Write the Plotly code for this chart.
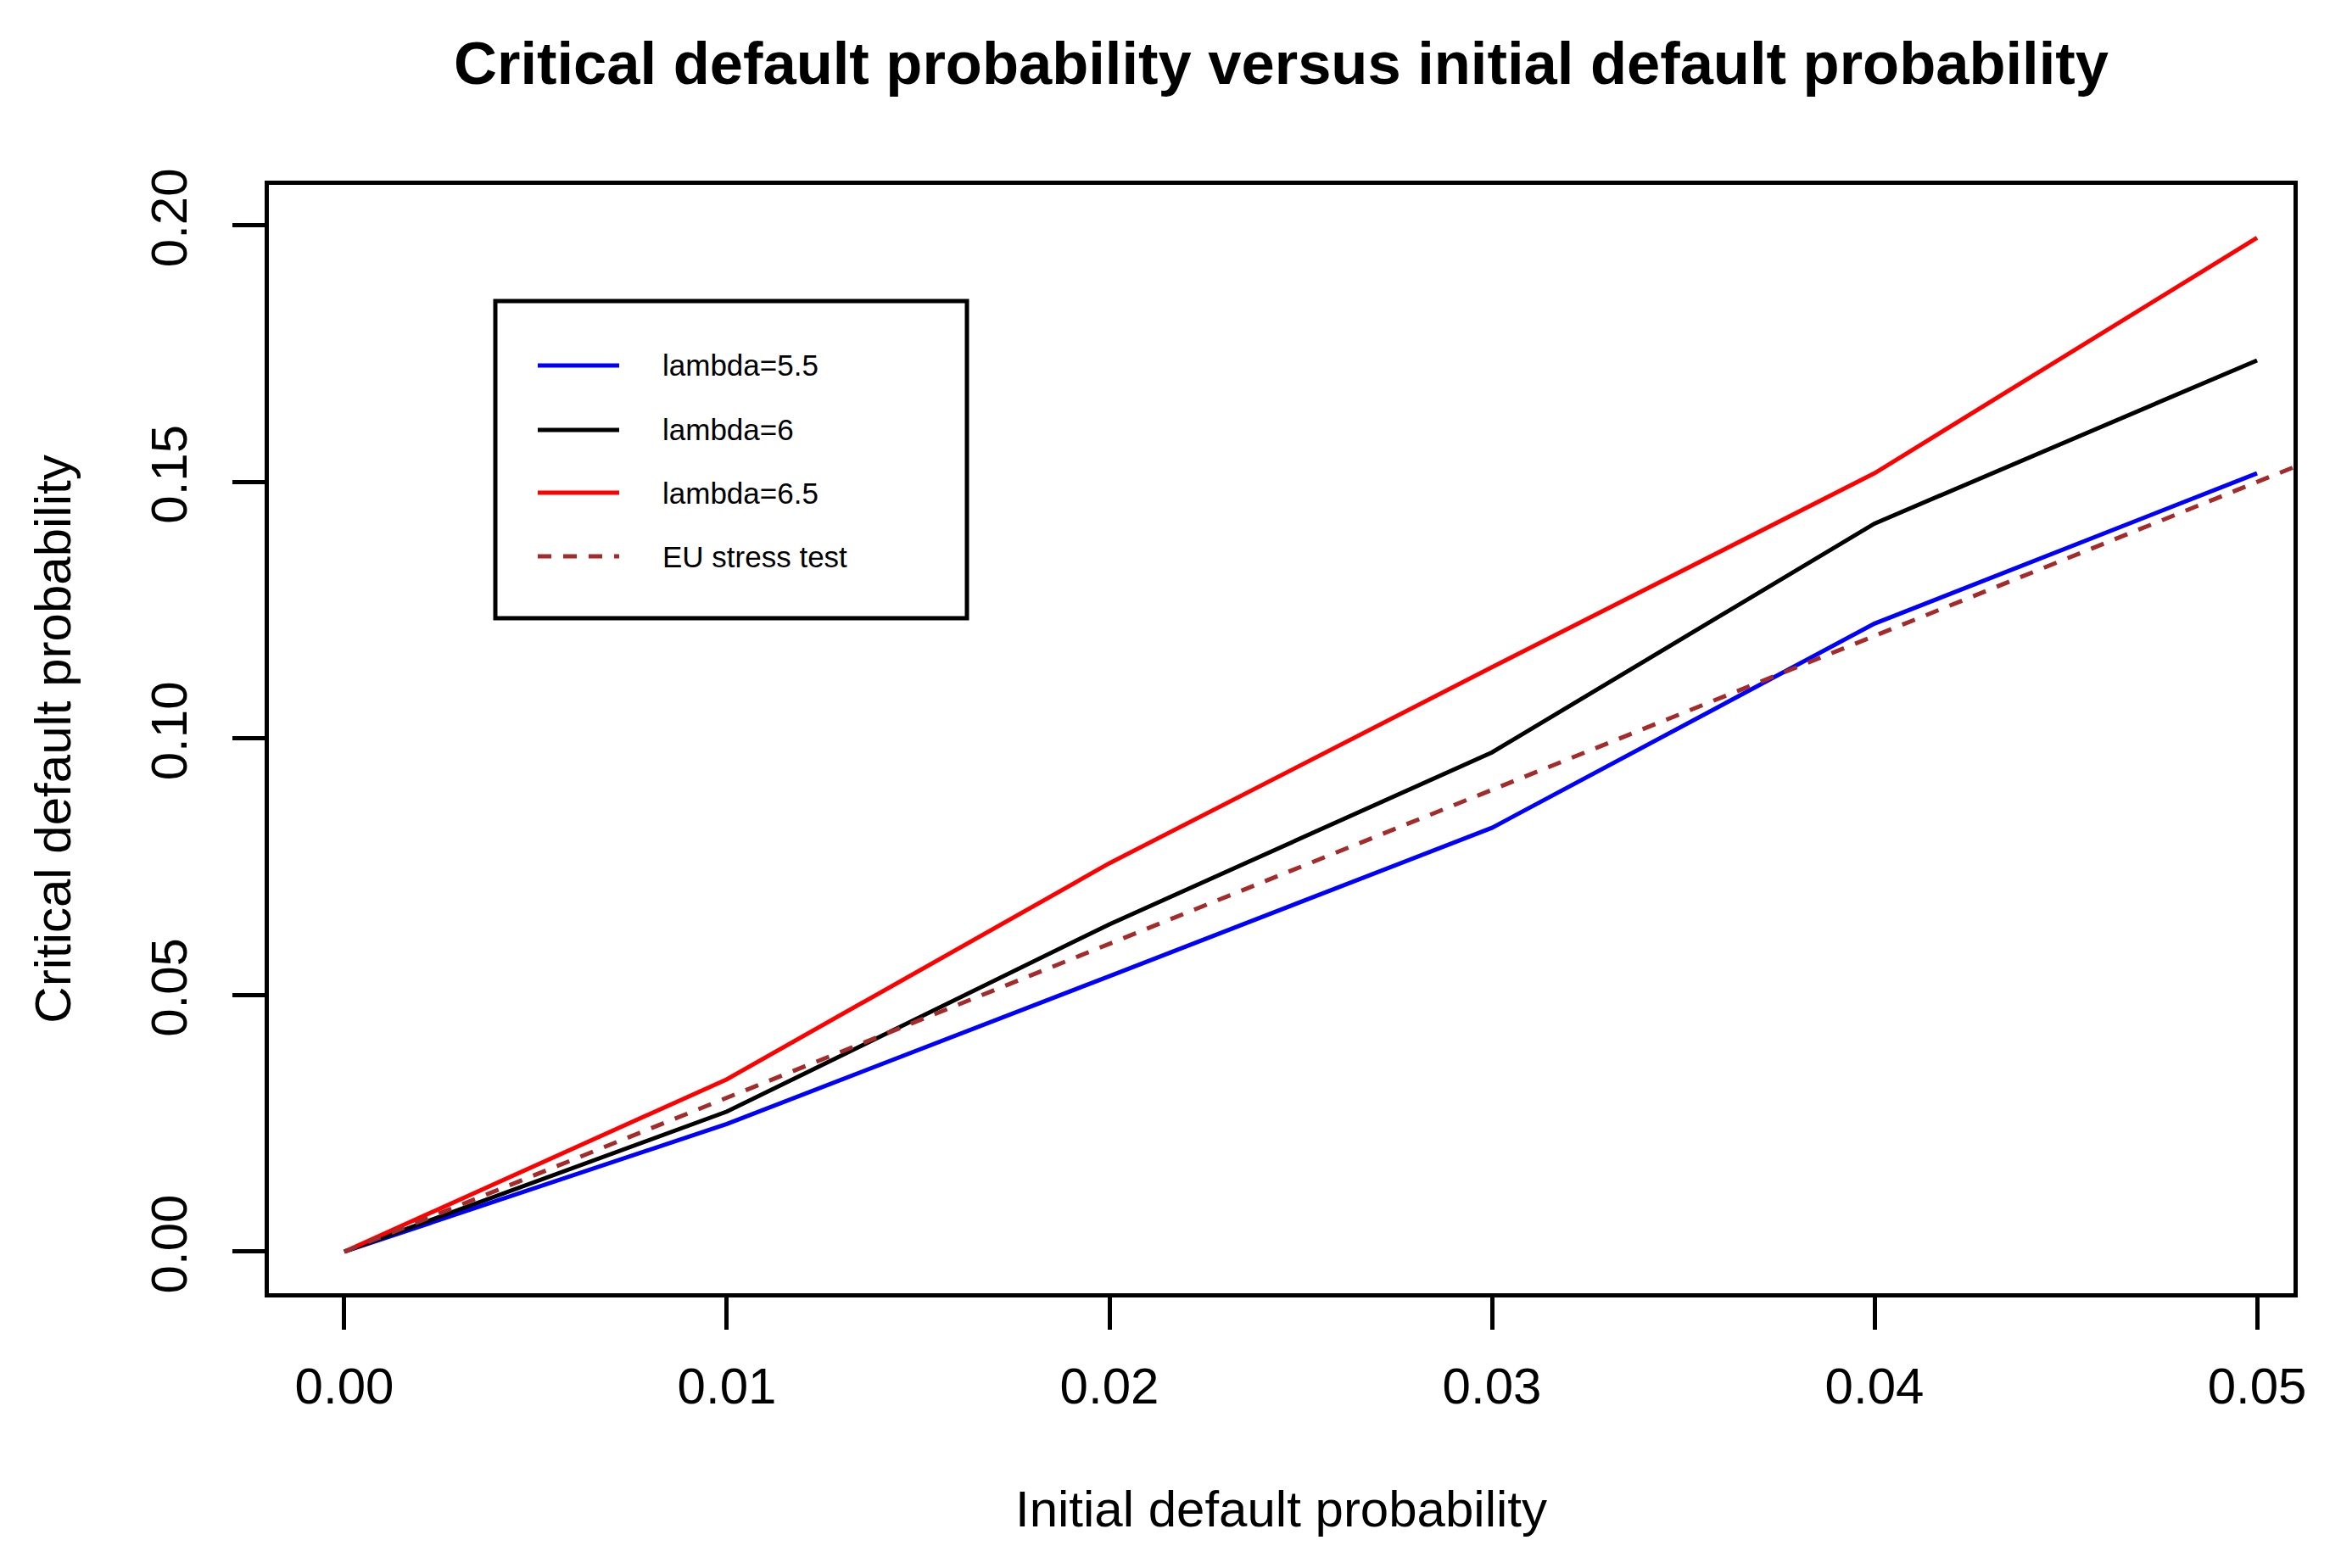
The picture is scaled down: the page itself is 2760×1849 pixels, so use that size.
import plotly.graph_objects as go

# ---- data ----
x_vals = [0.00, 0.01, 0.02, 0.03, 0.04, 0.05]
lambda_55 = [0.0, 0.0249, 0.0537, 0.0826, 0.1224, 0.1517]
lambda_6 = [0.0, 0.0273, 0.0638, 0.0973, 0.1419, 0.1737]
lambda_65 = [0.0, 0.0336, 0.0757, 0.1139, 0.1517, 0.1976]
eu_x = [0.0, 0.051]
eu_y = [0.0, 0.153]

x_ticks = [0.00, 0.01, 0.02, 0.03, 0.04, 0.05]
x_tick_text = ["0.00", "0.01", "0.02", "0.03", "0.04", "0.05"]
y_ticks = [0.00, 0.05, 0.10, 0.15, 0.20]
y_tick_text = ["0.00", "0.05", "0.10", "0.15", "0.20"]

legend_labels = ["lambda=5.5", "lambda=6", "lambda=6.5", "EU stress test"]

# ---- layout constants (pixels, in page coordinates; page body has an 8px margin) ----
OFF = 8
W, H = 2760 - 2 * OFF, 1849 - 2 * OFF
PL, PR, PT, PB = 317 - OFF, 2704 - OFF, 218 - OFF, 1525 - OFF
FONT = "Liberation Sans, Arial, Helvetica, sans-serif"

BLUE = "#0000FF"
BLACK = "#000000"
RED = "#FF0000"
BROWN = "#A52A2A"
DASH = "16px,14px"
LW = 5


def px_x(px):
    return (px - OFF - PL) / (PR - PL)


def px_y(py):
    return (PB - (py - OFF)) / (PB - PT)


fig = go.Figure()
fig.add_trace(go.Scatter(x=x_vals, y=lambda_55, mode="lines", name=legend_labels[0],
                         line=dict(color=BLUE, width=LW)))
fig.add_trace(go.Scatter(x=x_vals, y=lambda_6, mode="lines", name=legend_labels[1],
                         line=dict(color=BLACK, width=LW)))
fig.add_trace(go.Scatter(x=x_vals, y=lambda_65, mode="lines", name=legend_labels[2],
                         line=dict(color=RED, width=LW)))
fig.add_trace(go.Scatter(x=eu_x, y=eu_y, mode="lines", name=legend_labels[3],
                         line=dict(color=BROWN, width=LW, dash=DASH)))

# ---- manual legend box (R style) ----
shapes = [dict(type="rect", xref="paper", yref="paper",
               x0=px_x(584), x1=px_x(1140), y0=px_y(729), y1=px_y(355),
               line=dict(color="black", width=LW), fillcolor="white", layer="above")]
annotations = []
legend_rows = [431, 507, 581, 656]
legend_colors = [BLUE, BLACK, RED, BROWN]
legend_dash = ["solid", "solid", "solid", DASH]
for lab, yy, col, dsh in zip(legend_labels, legend_rows, legend_colors, legend_dash):
    shapes.append(dict(type="line", xref="paper", yref="paper",
                       x0=px_x(634), x1=px_x(730), y0=px_y(yy), y1=px_y(yy),
                       line=dict(color=col, width=LW, dash=dsh), layer="above"))
    annotations.append(dict(xref="paper", yref="paper", x=px_x(779), y=px_y(yy),
                            text=lab, showarrow=False, xanchor="left", yanchor="middle",
                            font=dict(family=FONT, size=35, color="black")))

fig.update_layout(
    width=W, height=H,
    margin=dict(l=PL, r=W - PR, t=PT, b=H - PB, pad=0),
    paper_bgcolor="white", plot_bgcolor="white",
    showlegend=False,
    title=dict(text="<b>Critical default probability versus initial default probability</b>",
               x=0.5, xanchor="center", y=1 - (74 - OFF) / H, yanchor="middle",
               xref="paper", yref="container",
               font=dict(family=FONT, size=70.5, color="black")),
    xaxis=dict(range=[-0.001973, 0.050953], tickvals=x_ticks, ticktext=x_tick_text,
               showgrid=False, zeroline=False, showline=True, linecolor="black",
               linewidth=LW, mirror=True, ticks="outside", ticklen=38, tickwidth=LW,
               tickcolor="black", ticklabelstandoff=15,
               tickfont=dict(family=FONT, size=60, color="black"),
               title=dict(text="Initial default probability", standoff=92,
                          font=dict(family=FONT, size=60, color="black"))),
    yaxis=dict(range=[-0.0081, 0.2079], tickvals=y_ticks, ticktext=y_tick_text,
               showgrid=False, zeroline=False, showline=True, linecolor="black",
               linewidth=LW, mirror=True, ticks="outside", ticklen=38, tickwidth=LW,
               tickcolor="black", tickangle=-90, ticklabelstandoff=30,
               tickfont=dict(family=FONT, size=60, color="black"),
               title=dict(text="Critical default probability", standoff=65,
                          font=dict(family=FONT, size=60, color="black"))),
    shapes=shapes,
    annotations=annotations,
)

fig.write_html("out.html")
